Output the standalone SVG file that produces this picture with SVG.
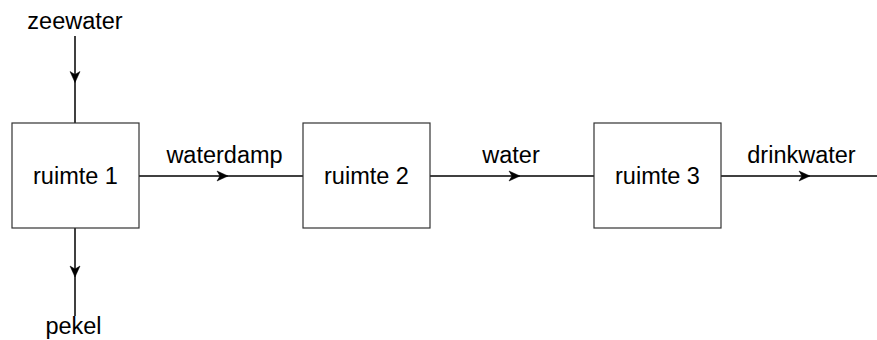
<svg xmlns="http://www.w3.org/2000/svg" xmlns:xlink="http://www.w3.org/1999/xlink" width="877" height="340" viewBox="0 0 877 340">
<style>
.box{fill:#fff;stroke:#333;stroke-width:1.2}
.ln{fill:none;stroke:#000;stroke-width:1.5}
.t{font-family:"Liberation Sans",Arial,sans-serif;font-size:23.5px;fill:#000;text-anchor:middle}
</style>
<defs>
<path id="ah" d="M0,0 L-11,-5 L-8,0 L-11,5 Z" fill="#000" stroke="#000" stroke-width="0.5" stroke-linejoin="miter"/>
</defs>
<rect width="877" height="340" fill="#fff"/>
<g id="connectors">
<path class="ln" d="M75,36 V123"/>
<use xlink:href="#ah" transform="translate(75,82.5) rotate(90)"/>
<path class="ln" d="M75,228 V316"/>
<use xlink:href="#ah" transform="translate(75,277) rotate(90)"/>
<path class="ln" d="M139,176 H303"/>
<use xlink:href="#ah" transform="translate(228,176)"/>
<path class="ln" d="M430,176 H594"/>
<use xlink:href="#ah" transform="translate(520,176)"/>
<path class="ln" d="M721,176 H877"/>
<use xlink:href="#ah" transform="translate(810,176)"/>
</g>
<g id="labels">
<text class="t" x="75" y="29">zeewater</text>
<text class="t" x="73.5" y="334">pekel</text>
<text class="t" x="224.5" y="163">waterdamp</text>
<text class="t" x="511" y="163">water</text>
<text class="t" x="801.5" y="163">drinkwater</text>
</g>
<g id="ruimte1">
<rect class="box" x="12" y="123" width="127" height="105"/>
<text class="t" x="75.5" y="184">ruimte 1</text>
</g>
<g id="ruimte2">
<rect class="box" x="303" y="123" width="127" height="105"/>
<text class="t" x="366.5" y="184">ruimte 2</text>
</g>
<g id="ruimte3">
<rect class="box" x="594" y="123" width="127" height="105"/>
<text class="t" x="657.5" y="184">ruimte 3</text>
</g>
</svg>
